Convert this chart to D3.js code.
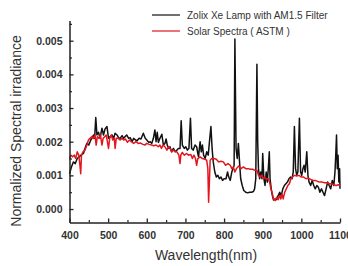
<!DOCTYPE html>
<html>
<head>
<meta charset="utf-8">
<script src="https://d3js.org/d3.v7.min.js"></script>
<style>
    body { margin: 0; background: #fff; }
    svg { font-family: "Liberation Sans", Arial, sans-serif; }
</style>
</head>
<body>
<svg width="348" height="266"></svg>
<script>
// Xe lamp spectrum (wavelength nm / normalized irradiance)
var lampWl = [400, 405, 410, 415, 420, 425, 430, 436, 440, 445, 450, 455, 458, 462, 465, 468, 471, 475, 479, 484,
    488, 492, 497, 501, 505, 510, 514, 518, 523, 527, 531, 536, 540, 548, 553, 557, 562, 566, 571, 575,
    580, 585, 591, 596, 600, 605, 609, 613, 617, 621, 624, 627, 630, 634, 639, 643, 647, 650, 653, 657,
    660, 664, 669, 673, 678, 682, 686, 689, 692, 697, 701, 705, 709, 713, 716, 720, 725, 729, 732, 734,
    736, 738, 741, 744, 747, 751, 755, 759, 763, 766, 769, 772, 776, 780, 784, 788, 792, 796, 800, 805,
    809, 812, 816, 820, 823, 826, 828, 831, 834, 837, 840, 843, 847, 851, 856, 861, 866, 871, 876, 879,
    882, 885, 887, 889, 892, 895, 898, 900, 903, 906, 909, 912, 915, 917, 919, 922, 925, 928, 932, 936,
    940, 944, 948, 952, 956, 960, 964, 968, 972, 976, 979, 982, 985, 988, 991, 995, 998, 1001, 1004, 1007,
    1010, 1014, 1017, 1020, 1024, 1028, 1032, 1036, 1040, 1044, 1048, 1052, 1056, 1060, 1064, 1068, 1072, 1076, 1080, 1084,
    1087, 1089, 1091, 1093, 1095, 1097, 1099, 1100];
var lampVal = [0.00105, 0.00125, 0.0014, 0.00135, 0.0015, 0.00155, 0.0016, 0.00165, 0.0018, 0.00195, 0.0019, 0.00205, 0.0021, 0.0022, 0.0021, 0.00272, 0.0022, 0.00228, 0.0021, 0.0024,
    0.0022, 0.00238, 0.00245, 0.0021, 0.00215, 0.0022, 0.0021, 0.00225, 0.0022, 0.00212, 0.0021, 0.00218, 0.0021, 0.0022, 0.0021, 0.00212, 0.002, 0.0021, 0.00205, 0.00203,
    0.0021, 0.00208, 0.00225, 0.0021, 0.00205, 0.00198, 0.002, 0.00195, 0.0021, 0.00235, 0.002, 0.00228, 0.00198, 0.0021, 0.00222, 0.0019, 0.00195, 0.00208, 0.0019, 0.0018,
    0.00185, 0.0017, 0.0018, 0.0017, 0.00175, 0.0018, 0.0018, 0.00262, 0.0019, 0.0018, 0.00185, 0.00175, 0.0018, 0.0027, 0.0018, 0.00175, 0.0019, 0.00185, 0.00165, 0.00155,
    0.0018, 0.002, 0.0017, 0.0019, 0.0016, 0.0015, 0.0017, 0.0016, 0.0021, 0.00245, 0.0018, 0.0014, 0.0011, 0.00095, 0.001, 0.0009, 0.00095, 0.00085, 0.0009, 0.0009,
    0.0011, 0.00095, 0.00085, 0.0011, 0.0012, 0.0013, 0.00505, 0.0018, 0.0015, 0.00195, 0.0014, 0.0009, 0.0007, 0.00055, 0.0005, 0.00048, 0.0005, 0.0005, 0.00052, 0.0006,
    0.0009, 0.0043, 0.002, 0.0012, 0.0009, 0.0011, 0.0009, 0.00165, 0.0009, 0.0007, 0.0011, 0.0008, 0.0013, 0.0017, 0.0009, 0.0006, 0.0004, 0.00027, 0.0003, 0.00028,
    0.0004, 0.0005, 0.0004, 0.0006, 0.0007, 0.00075, 0.0008, 0.0009, 0.00095, 0.0009, 0.0011, 0.00245, 0.0012, 0.001, 0.0011, 0.0027, 0.0011, 0.001, 0.0012, 0.0013,
    0.0011, 0.0017, 0.001, 0.0008, 0.0007, 0.00085, 0.0007, 0.0006, 0.0007, 0.00065, 0.0005, 0.0006, 0.0005, 0.0004, 0.0006, 0.0008, 0.0007, 0.0006, 0.00085, 0.0007,
    0.0011, 0.0016, 0.0022, 0.0012, 0.0016, 0.0008, 0.0012, 0.0006];

// ASTM solar spectrum
var solarWl = [400, 404, 408, 412, 416, 420, 424, 427, 429, 431, 435, 440, 445, 449, 453, 458, 462, 466, 469, 472,
    476, 480, 484, 487, 491, 495, 498, 501, 504, 508, 512, 516, 518, 521, 526, 531, 536, 540, 545, 550,
    555, 560, 566, 572, 578, 584, 590, 595, 600, 606, 612, 618, 624, 630, 634, 638, 642, 647, 652, 656,
    660, 665, 669, 674, 678, 683, 686, 688, 692, 697, 703, 708, 714, 718, 722, 726, 729, 732, 738, 744,
    750, 755, 758, 760, 762, 764, 768, 774, 780, 786, 792, 798, 804, 810, 816, 820, 824, 828, 832, 838,
    844, 850, 856, 862, 868, 874, 880, 885, 889, 893, 897, 901, 905, 910, 914, 918, 921, 924, 928, 932,
    936, 940, 944, 947, 950, 953, 957, 961, 965, 969, 973, 977, 982, 988, 994, 1000, 1006, 1012, 1018, 1024,
    1030, 1036, 1042, 1048, 1054, 1060, 1066, 1072, 1078, 1084, 1090, 1096, 1100];
var solarVal = [0.0015, 0.0016, 0.00155, 0.0016, 0.0015, 0.0017, 0.0016, 0.0013, 0.00105, 0.0016, 0.0017, 0.00175, 0.0019, 0.00205, 0.0021, 0.00215, 0.0021, 0.0022, 0.0019, 0.00215,
    0.0021, 0.0022, 0.0019, 0.0021, 0.00215, 0.0022, 0.002, 0.0018, 0.0021, 0.0022, 0.00205, 0.0021, 0.0018, 0.0021, 0.0021, 0.00205, 0.0021, 0.00205, 0.00208, 0.00198,
    0.00205, 0.002, 0.00195, 0.002, 0.00195, 0.00196, 0.00192, 0.0019, 0.00195, 0.00192, 0.0019, 0.00188, 0.0019, 0.00185, 0.0019, 0.0018, 0.0019, 0.00185, 0.00175, 0.00185,
    0.0018, 0.0017, 0.00175, 0.0017, 0.0017, 0.0016, 0.00135, 0.0016, 0.00168, 0.0016, 0.00165, 0.0016, 0.00162, 0.0015, 0.0016, 0.0015, 0.0013, 0.0015, 0.00155, 0.0015,
    0.00148, 0.00145, 0.0012, 0.0002, 0.0008, 0.00145, 0.0015, 0.0015, 0.00148, 0.0014, 0.00142, 0.0014, 0.0013, 0.00135, 0.0013, 0.0012, 0.00125, 0.0011, 0.0012, 0.00128,
    0.0012, 0.00125, 0.0012, 0.0012, 0.00118, 0.00118, 0.00115, 0.00115, 0.001, 0.00095, 0.001, 0.0009, 0.00095, 0.00088, 0.0009, 0.0008, 0.0006, 0.0005, 0.0003, 0.00025,
    0.00035, 0.00028, 0.0004, 0.0003, 0.00045, 0.0003, 0.0005, 0.0006, 0.0007, 0.00075, 0.0009, 0.00095, 0.001, 0.00098, 0.001, 0.00095, 0.00095, 0.0009, 0.00092, 0.00088,
    0.00085, 0.00085, 0.00082, 0.0008, 0.0008, 0.00078, 0.00078, 0.00075, 0.00075, 0.00072, 0.0007, 0.00072, 0.0007];

var xTicks = [400, 500, 600, 700, 800, 900, 1000, 1100];
var yTicks = [0, 0.001, 0.002, 0.003, 0.004, 0.005];
var seriesNames = ["Zolix Xe Lamp with AM1.5 Filter", "Solar Spectra\u00a0( ASTM )"];

var svg = d3.select("svg");

// scales
var x = d3.scaleLinear().domain([400, 1100]).range([69.5, 340]);
var y = d3.scaleLinear().domain([-0.0004, 0.0056]).range([222.5, 20.5]);

var lampData = lampWl.map(function (d, i) { return { w: d, v: lampVal[i] }; });
var solarData = solarWl.map(function (d, i) { return { w: d, v: solarVal[i] }; });

var line = d3.line()
    .x(function (d) { return x(d.w); })
    .y(function (d) { return y(d.v); });

// lines, lamp first then solar on top
svg.append("path")
    .datum(lampData)
    .attr("d", line)
    .attr("fill", "none")
    .attr("stroke", "#111")
    .attr("stroke-width", 1.5)
    .attr("stroke-linejoin", "round");

svg.append("path")
    .datum(solarData)
    .attr("d", line)
    .attr("fill", "none")
    .attr("stroke", "#e3161e")
    .attr("stroke-width", 1.5)
    .attr("stroke-linejoin", "round");

// minor ticks
var minorX = d3.range(450, 1100, 100);
var minorY = d3.range(0.0005, 0.0056, 0.001);

svg.append("g")
    .attr("transform", "translate(0," + y.range()[0] + ")")
    .call(d3.axisBottom(x).tickValues(minorX).tickSizeInner(-2.5).tickSizeOuter(0).tickFormat(""))
    .call(function (g) { g.select(".domain").remove(); })
    .selectAll("line").attr("stroke", "#222").attr("stroke-width", 1.2);

svg.append("g")
    .attr("transform", "translate(" + x.range()[0] + ",0)")
    .call(d3.axisLeft(y).tickValues(minorY).tickSizeInner(-2.5).tickSizeOuter(0).tickFormat(""))
    .call(function (g) { g.select(".domain").remove(); })
    .selectAll("line").attr("stroke", "#222").attr("stroke-width", 1.2);

// X axis
var xAxis = svg.append("g")
    .attr("transform", "translate(0," + y.range()[0] + ")")
    .call(d3.axisBottom(x).tickValues(xTicks).tickSizeInner(-4).tickSizeOuter(0).tickPadding(9.5).tickFormat(d3.format("d")));
xAxis.select(".domain").attr("stroke", "#222").attr("stroke-width", 1.5);
xAxis.selectAll("line").attr("stroke", "#222").attr("stroke-width", 1.3);
xAxis.selectAll("text")
    .attr("font-size", 10.5)
    .attr("font-weight", "bold")
    .attr("fill", "#333")
    .attr("font-family", "Liberation Sans, Arial, sans-serif");

// Y axis
var yAxis = svg.append("g")
    .attr("transform", "translate(" + x.range()[0] + ",0)")
    .call(d3.axisLeft(y).tickValues(yTicks).tickSizeInner(-4).tickSizeOuter(0).tickPadding(7).tickFormat(d3.format(".3f")));
yAxis.select(".domain").attr("stroke", "#222").attr("stroke-width", 1.5);
yAxis.selectAll("line").attr("stroke", "#222").attr("stroke-width", 1.3);
yAxis.selectAll("text")
    .attr("font-size", 10.5)
    .attr("font-weight", "bold")
    .attr("fill", "#333")
    .attr("font-family", "Liberation Sans, Arial, sans-serif");

// axis titles
svg.append("text")
    .attr("x", 206)
    .attr("y", 260)
    .attr("text-anchor", "middle")
    .attr("font-size", 14)
    .attr("fill", "#333")
    .text("Wavelength(nm)");

svg.append("text")
    .attr("transform", "translate(20.5,131) rotate(-90)")
    .attr("text-anchor", "middle")
    .attr("font-size", 14)
    .attr("fill", "#333")
    .text("Normalized Spectral irradiance");

// legend
var colors = ["#111", "#e3161e"];
var legend = svg.append("g")
    .selectAll("g")
    .data(seriesNames)
    .enter().append("g")
    .attr("transform", function (d, i) { return "translate(152," + (15 + i * 16) + ")"; });

legend.append("line")
    .attr("x1", 0)
    .attr("x2", 28)
    .attr("stroke", function (d, i) { return colors[i]; })
    .attr("stroke-width", 1.2);

legend.append("text")
    .attr("x", 35)
    .attr("y", 3.6)
    .attr("font-size", 10)
    .attr("fill", "#333")
    .text(function (d) { return d; });
</script>
</body>
</html>
